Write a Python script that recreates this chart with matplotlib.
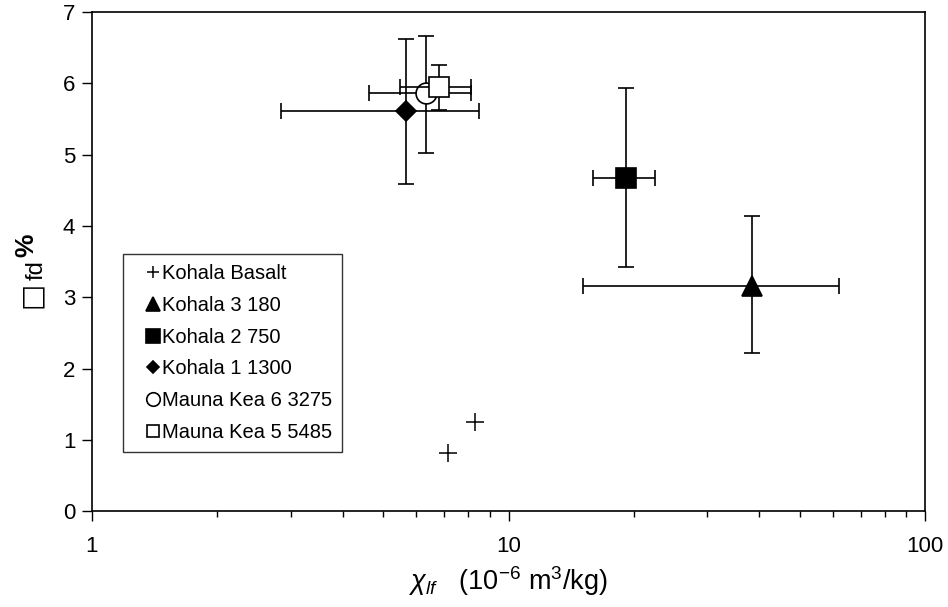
import matplotlib
matplotlib.use('Agg')
import matplotlib.pyplot as plt
from matplotlib.transforms import IdentityTransform
import numpy as np

plt.rcParams['font.family'] = ['Liberation Sans', 'DejaVu Sans']
plt.rcParams['mathtext.fontset'] = 'custom'
plt.rcParams['mathtext.rm'] = 'Liberation Sans'
plt.rcParams['mathtext.it'] = 'Liberation Sans:italic'
plt.rcParams['mathtext.bf'] = 'Liberation Sans:bold'

# basalt points (no error bars)
basalt_chi = [7.16, 8.31]
basalt_fd = [0.81, 1.25]

# soil samples: chi_lf (1e-6 m3/kg) and chi_fd % with error ranges
names = ['Kohala 3 180', 'Kohala 2 750', 'Kohala 1 1300',
         'Mauna Kea 6 3275', 'Mauna Kea 5 5485']
chi = [38.4, 19.1, 5.67, 6.34, 6.82]
chi_lo = [15.1, 15.95, 2.85, 4.62, 5.49]
chi_hi = [62.2, 22.5, 8.51, 8.13, 8.13]
fd = [3.16, 4.67, 5.61, 5.87, 5.95]
fd_lo = [2.22, 3.42, 4.59, 5.03, 5.63]
fd_hi = [4.14, 5.93, 6.62, 6.67, 6.26]

markers = ['^', 's', 'D', 'o', 's']
msizes = [14.5, 14.5, 9.8, 15, 13.8]
faces = ['black', 'black', 'black', 'white', 'white']

W, H = 948, 607
fig = plt.figure(figsize=(W / 100, H / 100), dpi=100)
ax = fig.add_axes([0.097, 0.158, 0.879, 0.822])

ax.plot(basalt_chi, basalt_fd, '+', color='black', ms=13, mew=1.1,
        label='Kohala Basalt', zorder=3)

for i in range(len(names)):
    ax.errorbar(chi[i], fd[i],
                xerr=[[chi[i] - chi_lo[i]], [chi_hi[i] - chi[i]]],
                yerr=[[fd[i] - fd_lo[i]], [fd_hi[i] - fd[i]]],
                fmt='none', ecolor='black', elinewidth=1.2, capsize=5.5,
                capthick=1.2, zorder=2 + 2 * i)
    ax.plot(chi[i], fd[i], markers[i], ms=msizes[i], mfc=faces[i],
            mec='black', mew=1.2, ls='none', label=names[i], zorder=3 + 2 * i)

ax.set_xscale('log')
ax.set_xlim(1, 100)
ax.set_ylim(0, 7)
ax.set_yticks(range(0, 8))
ax.set_xticks([1, 10, 100])
ax.set_xticklabels(['1', '10', '100'])

ax.tick_params(axis='both', which='major', direction='out', length=7,
               width=1, labelsize=16, color='black')
ax.tick_params(axis='x', which='major', pad=11)
ax.tick_params(axis='x', which='minor', direction='out', length=4, width=1)
ax.tick_params(axis='y', which='major', pad=5)
for s in ax.spines.values():
    s.set_linewidth(1.2)
    s.set_color('black')

ax.set_xlabel(r'$\chi_{\mathit{lf}}$   (10$^{-6}$ m$^{3}$/kg)', fontsize=19.5,
              labelpad=5)

# y label built from pieces (box glyph, subscript fd, bold %), pixel placed
ident = IdentityTransform()
fig.text(39, H - 308, '\u25a1', transform=ident, rotation=90,
         rotation_mode='anchor', ha='left', va='baseline',
         family='DejaVu Sans', fontsize=20)
fig.text(43, H - 280, 'fd', transform=ident, rotation=90,
         rotation_mode='anchor', ha='left', va='baseline', fontsize=17)
fig.text(33, H - 257, '%', transform=ident, rotation=90,
         rotation_mode='anchor', ha='left', va='baseline', fontsize=19,
         weight='bold')

leg = ax.legend(loc='upper left', bbox_to_anchor=(0.037, 0.515),
                borderaxespad=0, fontsize=14.5, markerscale=0.65,
                frameon=True, fancybox=False, edgecolor='black',
                handlelength=2.0, handletextpad=-0.55, labelspacing=0.63,
                borderpad=0.5)
leg.get_frame().set_linewidth(1.0)

fig.savefig('out.png', dpi=100)
